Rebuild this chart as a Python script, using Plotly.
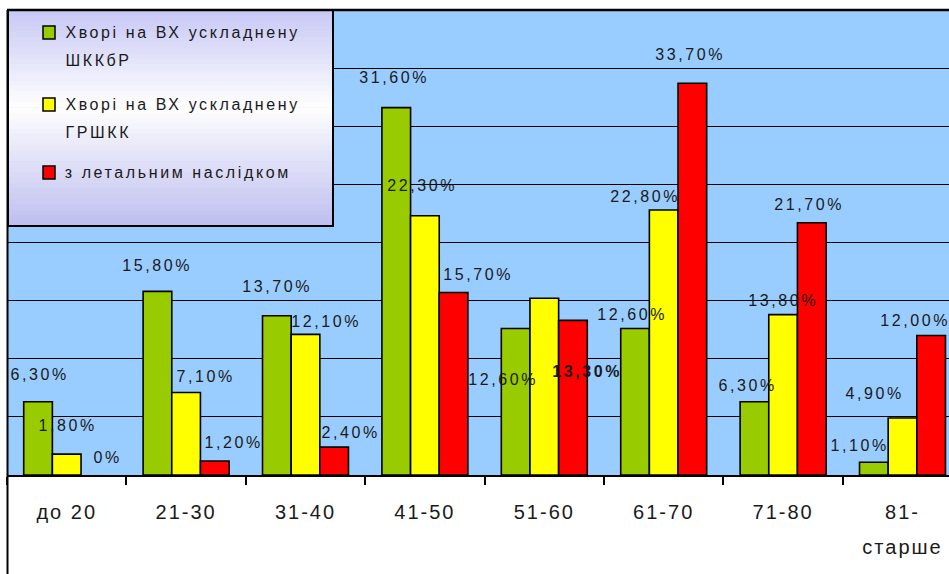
import plotly.graph_objects as go

# Age groups and shares (%) of patients by group
categories = ["до 20", "21-30", "31-40", "41-50", "51-60", "61-70", "71-80", "81-старше"]
tick_labels = ["до 20", "21-30", "31-40", "41-50", "51-60", "61-70", "71-80", "81-<br>старше"]

series_names = [
    "Хворі на ВХ ускладнену ШККбР",
    "Хворі на ВХ ускладнену ГРШКК",
    "з летальним наслідком",
]
shkkbr = [6.3, 15.8, 13.7, 31.6, 12.6, 12.6, 6.3, 1.1]
grshkk = [1.8, 7.1, 12.1, 22.3, 15.2, 22.8, 13.8, 4.9]
lethal = [0.0, 1.2, 2.4, 15.7, 13.3, 33.7, 21.7, 12.0]

# which value labels are printed (the 51-60 ГРШКК label is absent)
show_label = [
    [True] * 8,
    [True, True, True, True, False, True, True, True],
    [True] * 8,
]

colors = ["#99CC00", "#FFFF00", "#FF0000"]

# pixel offsets of each value label from the top of its bar (dx, dy; dy<0 is above)
label_offsets = [
    [(-27, -27), (-29, -26), (-29, -29), (-31, -30), (-41, 51), (-32, -14), (-36, -16), (-43, -17)],
    [(1, -29), (19, -16), (20, -13), (-3, -30), (0, 0), (-19, -13), (0, -14), (-28, -25)],
    [(41, -18), (47, -19), (45, -15), (53, -18), (43, 51), (26, -29), (26, -18), (12, -15)],
]
bold_labels = {(2, 4)}

FONT = "Liberation Sans, Arial, sans-serif"
TEXT_COLOR = "#1a1a1a"
LETTER_SPACING = 2.6

# plot-area geometry in pixels
W, H = 949, 574
L, T, B = 7, 10, 99
PW, PH = W - L, H - T - B
CAT_W = 119.4


def px_x(px):
    return (px - L) / PW


def px_y(py):
    return (H - B - py) / PH


def fmt(v):
    if v == 0:
        return "0%"
    return f"{v:.2f}".replace(".", ",") + "%"


fig = go.Figure()
all_values = [shkkbr, grshkk, lethal]
for name, vals, col in zip(series_names, all_values, colors):
    fig.add_trace(go.Bar(
        x=categories, y=vals, name=name,
        marker=dict(color=col,
                    line=dict(color="#000000", width=[1.6 if v > 0 else 0 for v in vals])),
        showlegend=False,
    ))

annotations = []
for s, vals in enumerate(all_values):
    for i, v in enumerate(vals):
        if not show_label[s][i]:
            continue
        dx, dy = label_offsets[s][i]
        txt = fmt(v)
        if (s, i) in bold_labels:
            txt = f"<b>{txt}</b>"
        annotations.append(dict(
            x=categories[i], y=v, xref="x", yref="y",
            xshift=dx, yshift=-dy, text=txt, showarrow=False,
            xanchor="center", yanchor="middle",
            font=dict(family=FONT, size=16, color=TEXT_COLOR),
        ))

shapes = []

# legend panel with a vertical lavender-white-lavender gradient
box_x0, box_x1, box_y0, box_y1 = 8, 333, 10, 226
n_strips = 40
top_c = (200, 200, 246)
mid_c = (255, 255, 255)
bot_c = (190, 190, 240)
for k in range(n_strips):
    t = (k + 0.5) / n_strips
    if t < 0.45:
        f = t / 0.45
        c = [top_c[j] + (mid_c[j] - top_c[j]) * f for j in range(3)]
    else:
        f = (t - 0.45) / 0.55
        c = [mid_c[j] + (bot_c[j] - mid_c[j]) * f for j in range(3)]
    ya = box_y0 + (box_y1 - box_y0) * k / n_strips
    yb = box_y0 + (box_y1 - box_y0) * (k + 1) / n_strips + 0.6
    shapes.append(dict(
        type="rect", xref="paper", yref="paper", layer="above",
        x0=px_x(box_x0), x1=px_x(box_x1), y0=px_y(yb), y1=px_y(ya),
        fillcolor=f"rgb({int(c[0])},{int(c[1])},{int(c[2])})", line=dict(width=0),
    ))
shapes.append(dict(
    type="rect", xref="paper", yref="paper", layer="above",
    x0=px_x(box_x0), x1=px_x(box_x1), y0=px_y(box_y1), y1=px_y(box_y0),
    line=dict(color="#000000", width=2), fillcolor="rgba(0,0,0,0)",
))

# legend swatches and entries
legend_rows = [
    (32, ["Хворі на ВХ ускладнену", "ШККбР"]),
    (104, ["Хворі на ВХ ускладнену", "ГРШКК"]),
    (172, ["з летальним наслідком"]),
]
for (yc, lines), col in zip(legend_rows, colors):
    shapes.append(dict(
        type="rect", xref="paper", yref="paper", layer="above",
        x0=px_x(43), x1=px_x(55), y0=px_y(yc + 7), y1=px_y(yc - 6),
        fillcolor=col, line=dict(color="#000000", width=1.5),
    ))
    for j, line in enumerate(lines):
        # spacing widens the text about its centre, so push it right by half the growth
        annotations.append(dict(
            x=px_x(63), y=px_y(yc + j * 28), xref="paper", yref="paper",
            xshift=LETTER_SPACING * len(line) / 2,
            text=line, showarrow=False, xanchor="left", yanchor="middle",
            font=dict(family=FONT, size=16, color=TEXT_COLOR),
        ))

# outer frame line on the left running down past the axis
shapes.append(dict(
    type="line", xref="paper", yref="paper", layer="above",
    x0=px_x(7.5), x1=px_x(7.5), y0=px_y(H + 5), y1=px_y(T),
    line=dict(color="#000000", width=2),
))
# top border of the plotting area
shapes.append(dict(
    type="line", xref="paper", yref="paper", layer="above",
    x0=0, x1=1, y0=1, y1=1, line=dict(color="#000000", width=2.5),
))

fig.update_layout(
    width=W, height=H,
    margin=dict(l=L, r=0, t=T, b=B, autoexpand=False),
    paper_bgcolor="#FFFFFF",
    plot_bgcolor="#99CCFF",
    barmode="group",
    bargap=0.28,
    bargroupgap=0,
    annotations=annotations,
    shapes=shapes,
    font=dict(family=FONT, color=TEXT_COLOR),
)
fig.update_xaxes(
    type="category",
    range=[-0.5, -0.5 + PW / CAT_W],
    tickmode="array", tickvals=categories, ticktext=tick_labels,
    tickson="boundaries", ticks="outside", ticklen=8, tickwidth=2, tickcolor="#000000",
    showline=True, linecolor="#000000", linewidth=2, mirror=False,
    showgrid=False,
    tickfont=dict(family=FONT, size=20, color=TEXT_COLOR),
    ticklabelstandoff=18,
)
fig.update_yaxes(
    range=[0, 40], dtick=5, showticklabels=False,
    showgrid=True, gridcolor="#000000", gridwidth=1,
    zeroline=False, showline=False,
)

# wide letter spacing for the chart's texts, and a looser second line in tick labels
post = """
(function(){
  var gd = document.getElementById('{plot_id}');
  function style(){
    gd.querySelectorAll('.annotation-text').forEach(function(t){ t.style.letterSpacing = '%spx'; });
    gd.querySelectorAll('.xtick text').forEach(function(t){
      t.style.letterSpacing = '2px';
      var lines = t.querySelectorAll('tspan.line');
      for (var i = 1; i < lines.length; i++) { lines[i].setAttribute('dy', '1.75em'); }
    });
  }
  style();
  gd.on && gd.on('plotly_afterplot', style);
})();
""".replace("%spx", f"{LETTER_SPACING}px")
fig.write_html("out.html", post_script=post)
